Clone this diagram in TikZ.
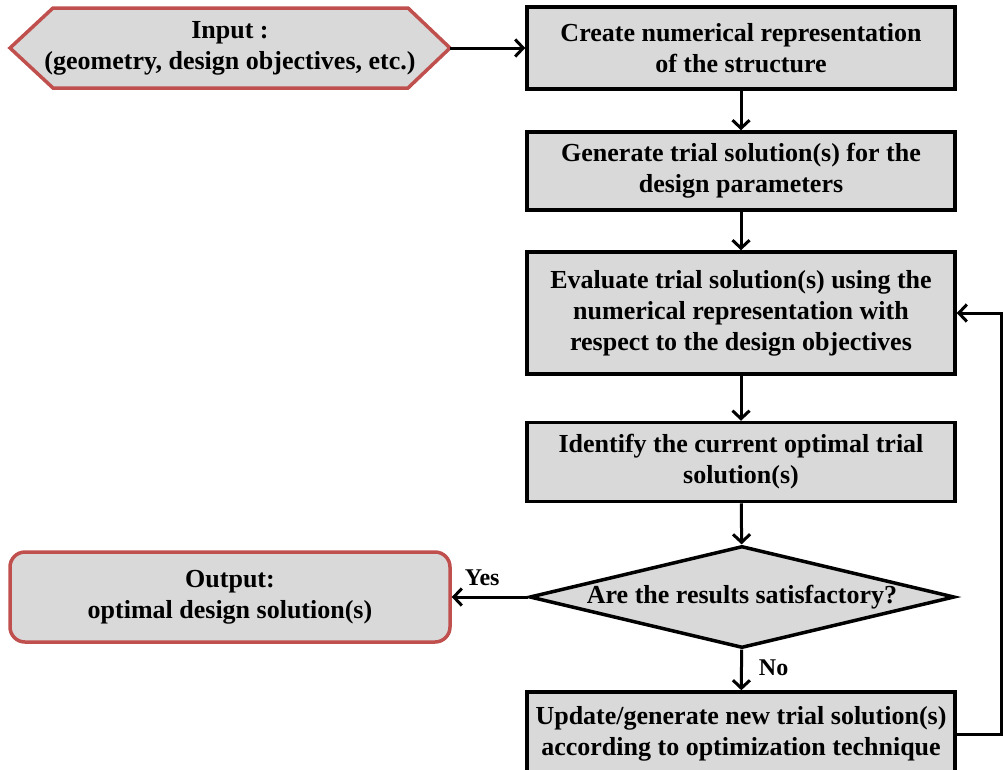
\documentclass[tikz,border=0pt]{standalone}
\usepackage{fontspec}
\setmainfont{Liberation Serif}
\usetikzlibrary{arrows.meta,shapes.geometric,calc}
\definecolor{boxgray}{RGB}{217,217,217}
\definecolor{redline}{RGB}{192,80,77}
\tikzset{
  txt/.style={font=\fontsize{26}{31}\selectfont\bfseries, align=center, inner sep=0pt},
  procbox/.style={txt, draw=black, line width=3.5pt, fill=boxgray, minimum width=428pt},
  arr/.style={line width=3pt, -{Straight Barb[length=8pt,width=17pt,line width=3pt]}},
  lbl/.style={font=\fontsize{24}{28}\selectfont\bfseries, inner sep=0pt}
}
\begin{document}
\begin{tikzpicture}[x=1pt,y=-1pt]
\useasboundingbox (0,0) rectangle (1003,769);
\clip (0,0) rectangle (1003,769);
% input hexagon
\coordinate (inL) at (10,48);
\coordinate (inTL) at (53,8);
\coordinate (inTR) at (408,8);
\coordinate (inR) at (450,48);
\coordinate (inBR) at (408,88);
\coordinate (inBL) at (53,88);
\fill[boxgray] (inL) -- (inTL) -- (inTR) -- (inR) -- (inBR) -- (inBL) -- cycle;
\draw[redline, line width=3.5pt, line join=miter] (inL) -- (inTL) -- (inTR) -- (inR) -- (inBR) -- (inBL) -- cycle;
\node[txt] (in) at (230,48) {Input :\\(geometry, design objectives, etc.)};
% process boxes
\node[procbox, minimum height=82pt] (b1) at (741,48) {Create numerical representation\\of the structure};
\node[procbox, minimum height=78pt] (b2) at (741,171) {Generate trial solution(s) for the\\design parameters};
\node[procbox, minimum height=122pt] (b3) at (741,313) {Evaluate trial solution(s) using the\\numerical representation with\\respect to the design objectives};
\node[procbox, minimum height=79pt] (b4) at (741,462) {Identify the current optimal trial\\solution(s)};
\node[txt, diamond, draw=black, line width=3.5pt, fill=boxgray, minimum width=425pt, minimum height=102pt, aspect=4.17] (dec) at (742,597) {Are the results satisfactory?};
\node[txt, draw=redline, line width=3.5pt, fill=boxgray, rounded corners=15pt, minimum width=440pt, minimum height=90pt] (out) at (230,597) {Output:\\optimal design solution(s)};
\node[procbox, minimum height=84pt] (b5) at (741,734) {Update/generate new trial solution(s)\\according to optimization technique};
% connectors
\draw[arr] (inR) -- (b1.west |- inR);
\draw[arr] (b1) -- (b2);
\draw[arr] (b2) -- (b3);
\draw[arr] (b3) -- (b4);
\draw[arr] (b4) -- (dec);
\draw[arr] (dec) -- node[lbl, pos=0.6, above=10pt] {Yes} (out);
\draw[arr] (dec) -- node[lbl, pos=0.45, right=16pt] {No} (b5);
\coordinate (fb) at (1001,0);
\draw[arr] (b5.east) -- (b5.east -| fb) -- (b3.east -| fb) -- (b3.east);
\end{tikzpicture}
\end{document}
